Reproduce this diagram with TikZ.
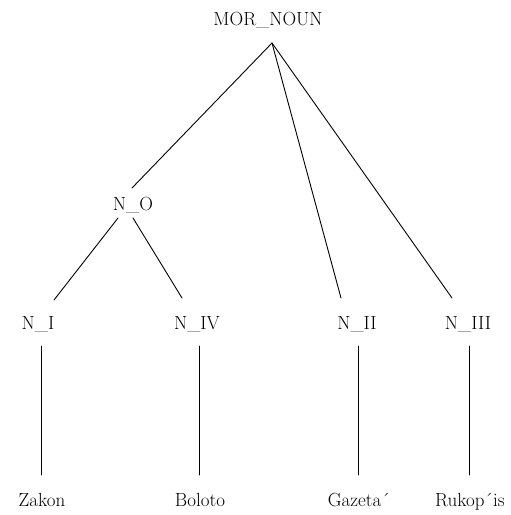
\documentclass[tikz,border=0pt]{standalone}
\begin{document}
\begin{tikzpicture}[x=1pt,y=-1pt,
  lbl/.style={font=\fontsize{19}{21}\selectfont, inner sep=0pt, anchor=base},
  branch/.style={line width=0.9pt, line cap=round}]
\useasboundingbox (0,0) rectangle (511,515);

% labels
\node[lbl] (root) at (268,25)  {MOR\_NOUN};
\node[lbl] (nO)   at (133,210) {N\_O};
\node[lbl] (nI)   at (38,329)  {N\_I};
\node[lbl] (nIV)  at (197,329) {N\_IV};
\node[lbl] (nII)  at (357,329) {N\_II};
\node[lbl] (nIII) at (468,329) {N\_III};
\node[lbl] (wI)   at (42,506)  {Zakon};
\node[lbl] (wIV)  at (200,506) {Boloto};
\node[lbl] (wII)  at (359,506) {Gazeta´};
\node[lbl] (wIII) at (470,506) {Rukop´is};

% branch end points
\coordinate (apex)   at (272,43);
\coordinate (nOtop)  at (132,188);
\coordinate (nOl)    at (118,218);
\coordinate (nOr)    at (133,218);
\coordinate (nItop)  at (54,300);
\coordinate (nIVtop) at (182,298);
\coordinate (nIItop) at (341,298);
\coordinate (nIIItop) at (452,298);
\coordinate (nIbot)  at (41,346);
\coordinate (nIVbot) at (199,346);
\coordinate (nIIbot) at (358,346);
\coordinate (nIIIbot) at (469,346);
\coordinate (wItop)  at (41,475);
\coordinate (wIVtop) at (199,475);
\coordinate (wIItop) at (358,475);
\coordinate (wIIItop) at (469,475);

% tree edges
\draw[branch] (apex) -- (nOtop);
\draw[branch] (apex) -- (nIItop);
\draw[branch] (apex) -- (nIIItop);
\draw[branch] (nOl) -- (nItop);
\draw[branch] (nOr) -- (nIVtop);
\draw[branch] (nIbot) -- (wItop);
\draw[branch] (nIVbot) -- (wIVtop);
\draw[branch] (nIIbot) -- (wIItop);
\draw[branch] (nIIIbot) -- (wIIItop);
\end{tikzpicture}
\end{document}
